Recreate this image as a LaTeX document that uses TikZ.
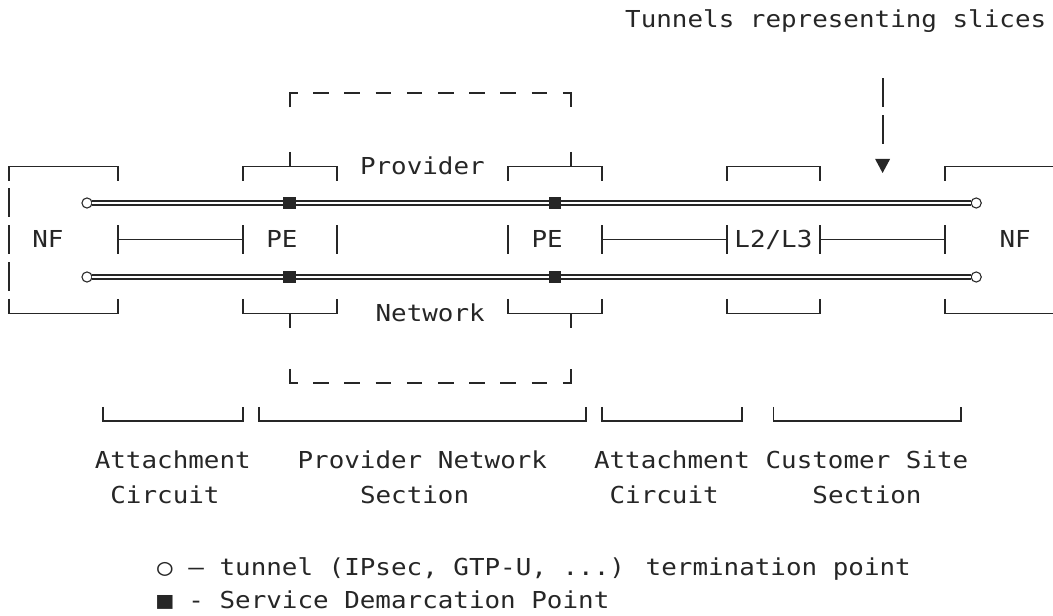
\documentclass[tikz,border=0pt]{standalone}
\usepackage{fontspec}
\newfontfamily\mono{DejaVu Sans Mono}[FakeStretch=1.11]
\definecolor{ink}{HTML}{262626}
\begin{document}
\begin{tikzpicture}[x=11.7pt,y=-0.75pt,
  every node/.style={inner sep=0pt, outer sep=0pt},
  frame/.style={draw=ink, line width=1.35pt},
  txt/.style={font=\mono\fontsize{17.5}{20}\selectfont, text=ink, anchor=base west},
  tunnel/.style={draw=ink, line width=1.05pt, double=white, double distance=2.1pt},
  endpt/.style={circle, draw=ink, line width=0.8pt, fill=white, minimum size=7.6pt},
  sdp/.style={rectangle, fill=ink, minimum size=9.6pt}]
\path[use as bounding box] (0pt,0pt) rectangle (789.75pt,-462pt);
\begin{scope}[xshift=6.75pt]

% ---- heading and pointer to the tunnels
\node[txt] (caption) at (39.5,28) {Tunnels representing slices};
\coordinate (ptrA) at (56,78.5);
\coordinate (ptrB) at (56,107.5);
\coordinate (ptrC) at (56,115.5);
\coordinate (ptrD) at (56,144.5);
\draw[frame] (ptrA) -- (ptrB);
\draw[frame] (ptrC) -- (ptrD);
\fill[ink] (55.52,159) -- (56.48,159) -- (56,173) -- cycle;

% ---- dashed provider network frame
\draw[frame] (18,107.5) -- (18,93) -- (18.5,93);
\foreach \k in {20,22,...,34} \draw[frame] (\k-0.5,93) -- (\k+0.5,93);
\draw[frame] (35.5,93) -- (36,93) -- (36,107.5);
\draw[frame] (18,369) -- (18,383) -- (18.5,383);
\foreach \k in {20,22,...,34} \draw[frame] (\k-0.5,383) -- (\k+0.5,383);
\draw[frame] (35.5,383) -- (36,383) -- (36,369);

% ---- left NF
\draw[frame] (0,181) -- (0,166.5) -- (7,166.5) -- (7,181);
\draw[frame] (0,188.5) -- (0,217.5);
\draw[frame] (0,225.5) -- (0,254.5);
\draw[frame] (0,262.5) -- (0,291.5);
\draw[frame] (0,299) -- (0,313.5) -- (7,313.5) -- (7,299);
\draw[frame] (7,225.5) -- (7,254.5);
\node[txt] (nfL) at (1.5,248) {NF};

% ---- left PE
\draw[frame] (15,181) -- (15,166.5) -- (21,166.5) -- (21,181);
\draw[frame] (18,152) -- (18,166.5);
\draw[frame] (15,299) -- (15,313.5) -- (21,313.5) -- (21,299);
\draw[frame] (18,313.5) -- (18,328);
\draw[frame] (15,225.5) -- (15,254.5);
\draw[frame] (21,225.5) -- (21,254.5);
\node[txt] (peL) at (16.5,248) {PE};

% ---- right PE
\draw[frame] (32,181) -- (32,166.5) -- (38,166.5) -- (38,181);
\draw[frame] (36,152) -- (36,166.5);
\draw[frame] (32,299) -- (32,313.5) -- (38,313.5) -- (38,299);
\draw[frame] (36,313.5) -- (36,328);
\draw[frame] (32,225.5) -- (32,254.5);
\draw[frame] (38,225.5) -- (38,254.5);
\node[txt] (peR) at (33.5,248) {PE};

\node[txt] (prov) at (22.5,175) {Provider};
\node[txt] (net) at (23.5,322) {Network};

% ---- customer L2/L3 device
\draw[frame] (46,181) -- (46,166.5) -- (52,166.5) -- (52,181);
\draw[frame] (46,299) -- (46,313.5) -- (52,313.5) -- (52,299);
\draw[frame] (46,225.5) -- (46,254.5);
\draw[frame] (52,225.5) -- (52,254.5);
\node[txt] (cust) at (46.5,248) {L2/L3};

% ---- right NF
\draw[frame] (60,181) -- (60,166.5) -- (66.95,166.5);
\draw[frame] (60,299) -- (60,313.5) -- (66.95,313.5);
\draw[frame] (60,225.5) -- (60,254.5);
\node[txt] (nfR) at (63.5,248) {NF};

% ---- attachment links between the boxes
\coordinate (a1) at (7,239.5);
\coordinate (a2) at (15,239.5);
\coordinate (a3) at (38,239.5);
\coordinate (a4) at (46,239.5);
\coordinate (a5) at (52,239.5);
\coordinate (a6) at (60,239.5);
\draw[frame] (a1) -- (a2);
\draw[frame] (a3) -- (a4);
\draw[frame] (a5) -- (a6);

% ---- the two tunnels
\node[endpt] (t1a) at (5,203) {};
\node[sdp]   (t1b) at (18,203) {};
\node[sdp]   (t1c) at (35,203) {};
\node[endpt] (t1d) at (62,203) {};
\draw[tunnel] (t1a) -- (t1b);
\draw[tunnel] (t1b) -- (t1c);
\draw[tunnel] (t1c) -- (t1d);
\node[endpt] (t2a) at (5,277) {};
\node[sdp]   (t2b) at (18,277) {};
\node[sdp]   (t2c) at (35,277) {};
\node[endpt] (t2d) at (62,277) {};
\draw[tunnel] (t2a) -- (t2b);
\draw[tunnel] (t2b) -- (t2c);
\draw[tunnel] (t2c) -- (t2d);

% ---- section brackets and their labels
\draw[frame] (6,407) -- (6,421) -- (15,421) -- (15,407);
\draw[frame] (16,407) -- (16,421) -- (37,421) -- (37,407);
\draw[frame] (38,407) -- (38,421) -- (47,421) -- (47,407);
\draw[frame] (49,407) -- (49,421) -- (61,421) -- (61,407);
\node[txt] (s1a) at (5.5,468.5) {Attachment};
\node[txt] (s2a) at (18.5,468.5) {Provider Network};
\node[txt] (s3a) at (37.5,468.5) {Attachment};
\node[txt] (s4a) at (48.5,468.5) {Customer Site};
\node[txt] (s1b) at (6.5,503.5) {Circuit};
\node[txt] (s2b) at (22.5,503.5) {Section};
\node[txt] (s3b) at (38.5,503.5) {Circuit};
\node[txt] (s4b) at (51.5,503.5) {Section};

% ---- legend
\node[txt] (leg1) at (9.5,575.5) {○ – tunnel (IPsec, GTP-U, ...) termination point};
\node[txt] (leg2) at (9.5,608.5) {■ - Service Demarcation Point};
\end{scope}
\end{tikzpicture}
\end{document}
